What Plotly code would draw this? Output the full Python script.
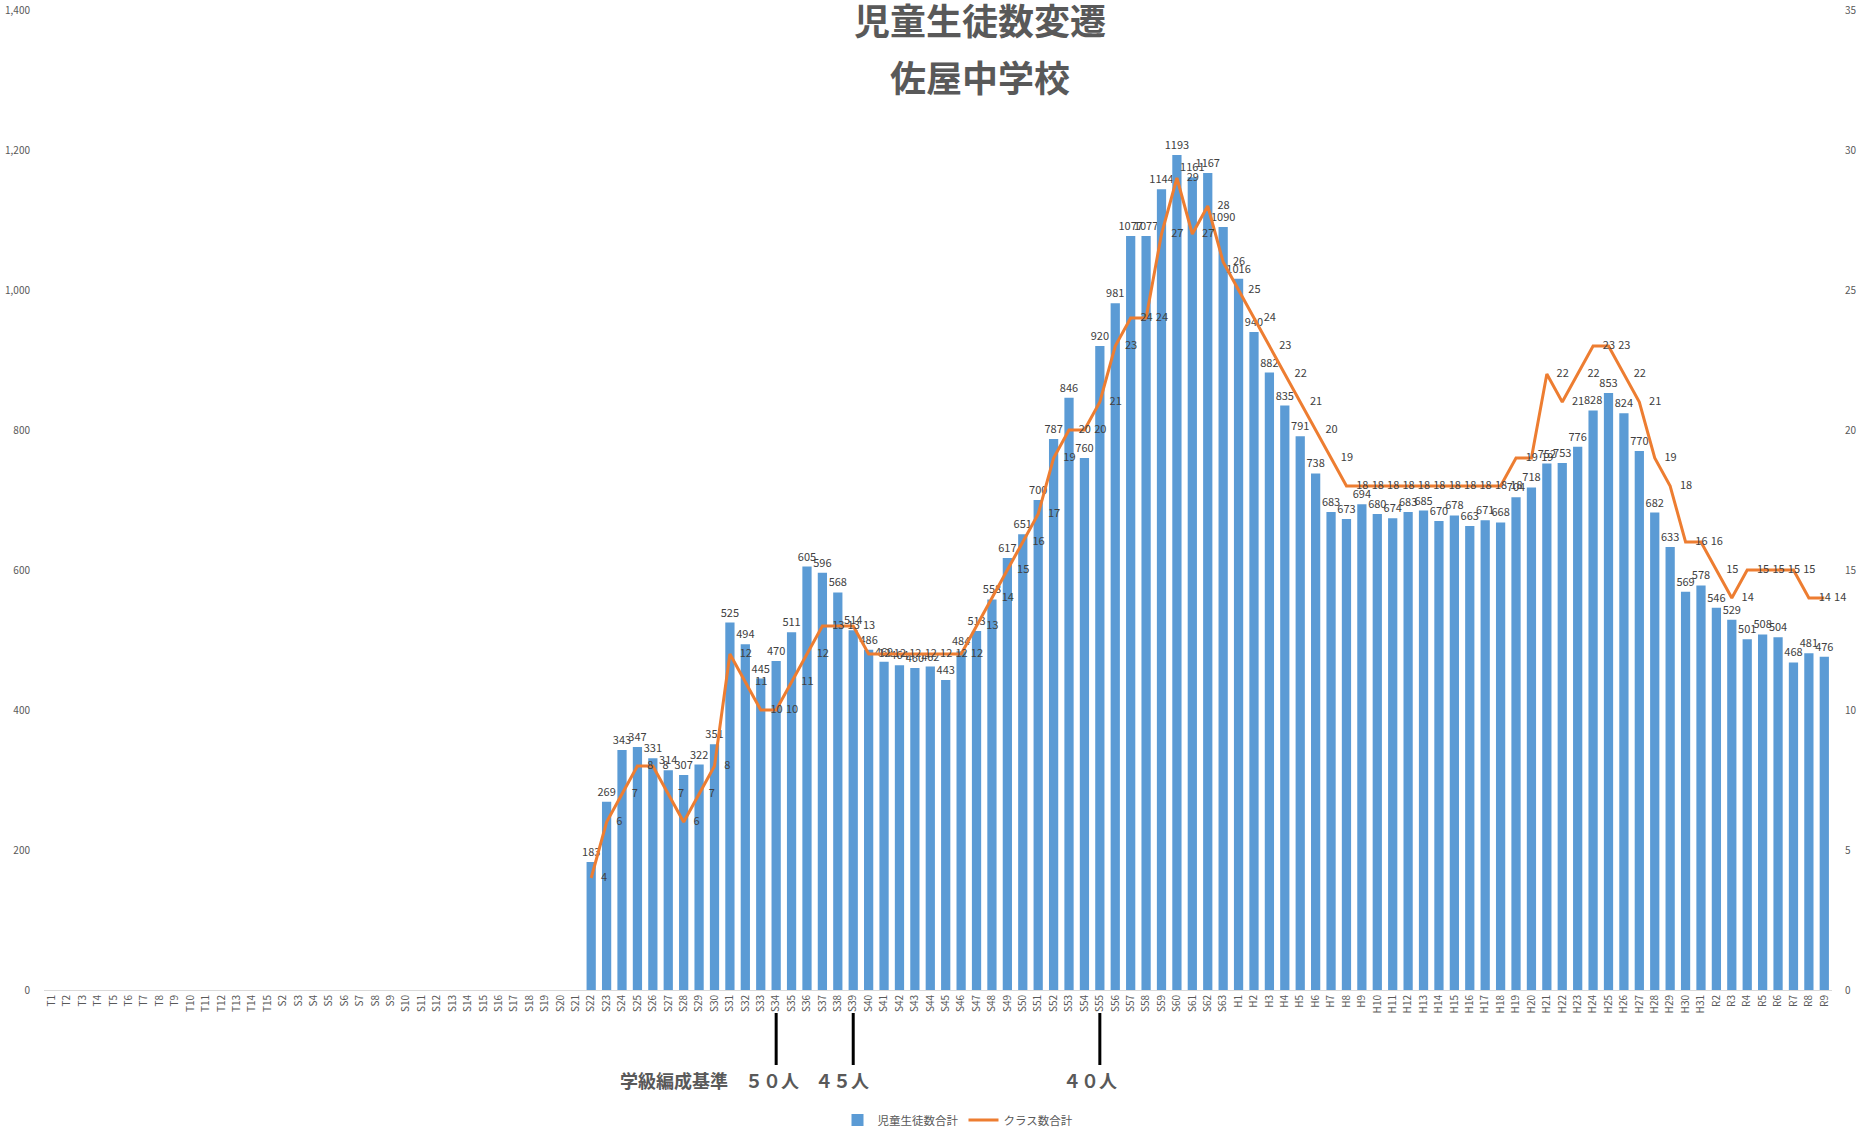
import plotly.graph_objects as go

# Category labels (Taisho, Showa, Heisei, Reiwa years)
taisho = ["T1", "T2", "T3", "T4", "T5", "T6", "T7", "T8", "T9", "T10", "T11", "T12", "T13", "T14", "T15"]
showa = ["S%d" % i for i in range(2, 64)]
heisei = ["H%d" % i for i in range(1, 32)]
reiwa = ["R2", "R3", "R4", "R5", "R6", "R7", "R8", "R9"]
categories = taisho + showa + heisei + reiwa

# Values from S22 onward (earlier years empty)
students_from_S22 = [
    183, 269, 343, 347, 331, 314, 307, 322, 351, 525,
    494, 445, 470, 511, 605, 596, 568, 514, 486, 469,
    464, 460, 462, 443, 484, 513, 558, 617, 651, 700,
    787, 846, 760, 920, 981, 1077, 1077, 1144, 1193, 1161,
    1167, 1090,
    1016, 940, 882, 835, 791, 738, 683, 673, 694, 680,
    674, 683, 685, 670, 678, 663, 671, 668, 704, 718,
    752, 753, 776, 828, 853, 824, 770, 682, 633, 569,
    578,
    546, 529, 501, 508, 504, 468, 481, 476,
]
classes_from_S22 = [
    4, 6, 7, 8, 8, 7, 6, 7, 8, 12,
    11, 10, 10, 11, 12, 13, 13, 13, 12, 12,
    12, 12, 12, 12, 12, 13, 14, 15, 16, 17,
    19, 20, 20, 21, 23, 24, 24, 27, 29, 27,
    28, 26,
    25, 24, 23, 22, 21, 20, 19, 18, 18, 18,
    18, 18, 18, 18, 18, 18, 18, 18, 19, 19,
    22, 21, 22, 23, 23, 22, 21, 19, 18, 16,
    16,
    15, 14, 15, 15, 15, 15, 14, 14,
]
n_empty = len(categories) - len(students_from_S22)
students = [None] * n_empty + students_from_S22
classes = [None] * n_empty + classes_from_S22

title_lines = ["児童生徒数変遷", "佐屋中学校"]
standard_title = "学級編成基準"
standard_texts = ["５０人", "４５人", "４０人"]
standard_marks = ["S34", "S39", "S55"]

FONT = "Noto Sans CJK JP"
GREY = "#595959"

W, H = 1858, 1132
ML, MR, MT, MB = 44, 26, 10, 142
PW = W - ML - MR
PH = H - MT - MB


def px(x_abs):
    return (x_abs - ML) / PW


def py(y_abs):
    return (H - MB - y_abs) / PH


fig = go.Figure()
fig.add_trace(go.Bar(
    x=categories, y=students, name="児童生徒数合計",
    marker=dict(color="#5B9BD5", line=dict(width=0)),
    text=[("%d" % v) if v is not None else "" for v in students],
    textposition="outside", constraintext="none", cliponaxis=False,
    textfont=dict(size=11, color="#404040", family=FONT),
))
fig.add_trace(go.Scatter(
    x=categories, y=classes, name="クラス数合計", yaxis="y2",
    mode="lines+markers+text", line=dict(color="#ED7D31", width=3),
    marker=dict(size=14, color="rgba(0,0,0,0)"),
    text=[("%d" % v) if v is not None else "" for v in classes],
    textposition="middle right", cliponaxis=False,
    textfont=dict(size=11, color="#404040", family=FONT),
))

# vertical marker lines for class-size standards
for c in standard_marks:
    fig.add_shape(type="line", xref="x", yref="paper", x0=c, x1=c,
                  y0=py(1013), y1=py(1065), line=dict(color="black", width=3))

fig.add_annotation(text="<b>" + title_lines[0] + "</b>", xref="paper", yref="paper",
                   x=px(980), y=py(19), yanchor="middle", showarrow=False,
                   font=dict(size=36, color=GREY, family=FONT))
fig.add_annotation(text="<b>" + title_lines[1] + "</b>", xref="paper", yref="paper",
                   x=px(980), y=py(76), yanchor="middle", showarrow=False,
                   font=dict(size=36, color=GREY, family=FONT))

fig.add_annotation(text="<b>" + standard_title + "</b>", xref="paper", yref="paper",
                   x=px(618), xanchor="left", y=py(1080), yanchor="middle",
                   showarrow=False, font=dict(size=18, color=GREY, family=FONT))
for t, xc in zip(standard_texts, [771.5, 842, 1090]):
    fig.add_annotation(text="<b>" + t + "</b>", xref="paper", yref="paper",
                       x=px(xc), xanchor="center", y=py(1080), yanchor="middle",
                       showarrow=False, font=dict(size=18, color=GREY, family=FONT))

fig.update_layout(
    width=W, height=H,
    margin=dict(l=ML, r=MR, t=MT, b=MB, autoexpand=False),
    paper_bgcolor="white", plot_bgcolor="white",
    font=dict(family=FONT, color=GREY),
    bargap=0.4,
    showlegend=True,
    legend=dict(orientation="h", xref="container", yref="container",
                x=958 / W, xanchor="center", y=1 - 1120 / H, yanchor="middle",
                font=dict(size=11.5, color=GREY)),
    xaxis=dict(type="category", range=[-0.5, len(categories) - 0.5],
               tickangle=-90, showgrid=False, showline=True,
               linecolor="#D9D9D9", linewidth=1, ticks="",
               tickfont=dict(size=10, color=GREY, family=FONT)),
    yaxis=dict(range=[0, 1400], dtick=200, tickformat=",", showgrid=False,
               zeroline=False, showline=False, ticks="", ticklabelstandoff=13,
               tickfont=dict(size=10, color=GREY, family=FONT)),
    yaxis2=dict(range=[0, 35], dtick=5, overlaying="y", side="right",
                showgrid=False, zeroline=False, showline=False, ticks="",
                ticklabelstandoff=12,
                tickfont=dict(size=10, color=GREY, family=FONT)),
)

# remove the default page margin so the chart fills the window exactly
fig.write_html("out.html", config={"displayModeBar": False},
               post_script="document.body.style.margin='0';")
